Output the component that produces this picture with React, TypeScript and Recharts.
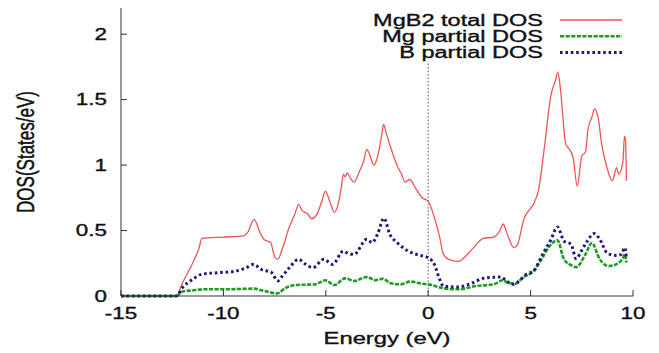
import { LineChart, Line, XAxis, YAxis, ReferenceLine } from 'recharts';

// MgB2 total DOS (red)
const energyTotal = [
  -15, -12.3, -12.0, -11.6, -11.3, -11.2, -11.05, -10.0, -9.0, -8.8, -8.5, -8.2, -8.0, -7.7, -7.5, -7.35,
  -7.1, -6.8, -6.5, -6.33, -6.15, -5.9, -5.7, -5.45, -5.2, -5.02, -4.8, -4.58, -4.4, -4.25, -4.14, -4.05,
  -3.95, -3.8, -3.62, -3.35, -3.15, -3.0, -2.88, -2.65, -2.48, -2.3, -2.18, -2.04, -1.78, -1.5, -1.3, -1.13,
  -0.9, -0.64, -0.29, 0, 0.3, 0.56, 0.74, 1.0, 1.46, 1.8, 2.16, 2.69, 3.2, 3.5, 3.65, 3.91, 4.18, 4.35, 4.7,
  5.0, 5.14, 5.4, 5.67, 6.0, 6.2, 6.33, 6.45, 6.72, 6.9, 7.07, 7.28, 7.5, 7.68, 7.8, 8.0, 8.12, 8.3, 8.47,
  8.73, 8.99, 9.2, 9.3, 9.45, 9.52, 9.58, 9.63, 9.68,
];
const dosTotal = [
  0, 0, 0.1, 0.22, 0.32, 0.36, 0.44, 0.45, 0.46, 0.49, 0.585, 0.48, 0.43, 0.41, 0.3, 0.28,
  0.37, 0.52, 0.63, 0.7, 0.65, 0.63, 0.59, 0.62, 0.72, 0.8, 0.72, 0.64, 0.7, 0.82, 0.93, 0.91,
  0.94, 0.9, 0.87, 0.955, 1.03, 1.12, 1.09, 1.0, 1.06, 1.2, 1.31, 1.24, 1.11, 0.99, 0.93, 0.87,
  0.89, 0.83, 0.75, 0.725, 0.6, 0.45, 0.32, 0.28, 0.265, 0.3, 0.36, 0.44, 0.45, 0.5, 0.55, 0.45, 0.37, 0.39, 0.6,
  0.67, 0.7, 0.82, 1.13, 1.54, 1.64, 1.71, 1.59, 1.16, 1.12, 1.06, 0.84, 1.07, 1.1, 1.27, 1.37, 1.43, 1.36, 1.16,
  0.98, 0.88, 0.98, 0.93, 0.98, 1.05, 1.22, 1.2, 0.88,
];

// Mg partial DOS (green)
const energyMg = [
  -15, -12.3, -12.02, -11.5, -10.97, -9.92, -8.52, -8.0, -7.38, -6.94, -6.42, -5.54, -5.02, -4.58, -4.05, -3.62,
  -3.0, -2.57, -2.21, -1.87, -1.34, -0.9, -0.29, 0, 0.74, 1.46, 2.34, 3.2, 3.65, 3.91, 4.26, 4.61, 5.14, 5.58,
  5.93, 6.31, 6.63, 7.07, 7.22, 7.68, 7.99, 8.38, 8.82, 9.17, 9.52, 9.6, 9.68,
];
const dosMg = [
  0, 0, 0.033, 0.043, 0.051, 0.051, 0.056, 0.038, 0.02, 0.064, 0.084, 0.089, 0.12, 0.084, 0.135, 0.115,
  0.145, 0.12, 0.132, 0.1, 0.089, 0.11, 0.094, 0.089, 0.059, 0.051, 0.076, 0.089, 0.12, 0.1, 0.094, 0.14, 0.19, 0.293,
  0.382, 0.426, 0.28, 0.229, 0.22, 0.318, 0.405, 0.28, 0.229, 0.242, 0.293, 0.318, 0.255,
];

// B partial DOS (blue)
const energyB = [
  -15, -12.3, -12.0, -11.5, -11.06, -10.27, -9.4, -8.87, -8.52, -8.17, -7.64, -7.35, -7.12, -6.77, -6.33, -5.98,
  -5.63, -5.1, -4.67, -4.14, -3.97, -3.62, -3.0, -2.74, -2.48, -2.16, -1.87, -1.52, -0.99, -0.29, 0, 0.3, 0.56,
  0.74, 1.46, 2.16, 2.69, 3.56, 3.82, 4.18, 4.44, 4.79, 5.14, 5.58, 6.0, 6.31, 6.63, 6.98, 7.22, 7.5, 7.77, 8.1,
  8.38, 8.73, 9.13, 9.43, 9.6, 9.68,
];
const dosB = [
  0, 0, 0.064, 0.127, 0.166, 0.178, 0.19, 0.217, 0.242, 0.204, 0.178, 0.115, 0.153, 0.217, 0.28, 0.242,
  0.217, 0.28, 0.242, 0.344, 0.33, 0.318, 0.433, 0.408, 0.47, 0.594, 0.47, 0.408, 0.344, 0.306, 0.293, 0.242, 0.127,
  0.076, 0.069, 0.1, 0.135, 0.145, 0.115, 0.089, 0.115, 0.166, 0.19, 0.318, 0.433, 0.528, 0.42, 0.395, 0.285, 0.35, 0.42, 0.477,
  0.433, 0.33, 0.31, 0.318, 0.37, 0.29,
];

const xTicks = [-15, -10, -5, 0, 5, 10];
const yTicks = [0, 0.5, 1, 1.5, 2];

const zip = (es: number[], vs: number[]) => es.map((e, i) => ({ e, v: vs[i] }));

const series = [
  { name: 'MgB2 total DOS', data: zip(energyTotal, dosTotal), color: '#ee5555', width: 1.3, dash: undefined },
  { name: 'Mg partial DOS', data: zip(energyMg, dosMg), color: '#1f9a22', width: 2.6, dash: '4.2 1.4' },
  { name: 'B partial DOS', data: zip(energyB, dosB), color: '#1c1c78', width: 3, dash: '2.6 2.8' },
];

const FONT = '"Liberation Sans", Arial, sans-serif';
const SX = 1.4;
// slight stroke so the text looks as heavy as the blurred scan
const ink = { fill: '#111', stroke: '#111', strokeWidth: 0.35 };

const BottomTick = ({ x, y, payload }: any) => (
  <text transform={`translate(${x},${y}) scale(${SX},1)`} textAnchor="middle" dy="0.71em"
    fontFamily={FONT} fontSize={16} {...ink}>
    {payload.value}
  </text>
);

const LeftTick = ({ x, y, payload }: any) => (
  <text transform={`translate(${x},${y}) scale(${SX},1)`} textAnchor="end" dy="0.355em"
    fontFamily={FONT} fontSize={16} {...ink}>
    {payload.value}
  </text>
);

const NoTick = () => <g />;

export default function App() {
  return (
    <div style={{ position: 'absolute', left: 0, top: 0, width: 659, height: 353, background: '#fff' }}>
      <LineChart width={659} height={353} margin={{ top: 8, right: 26, bottom: 0, left: 0 }}>
        <XAxis xAxisId="b" dataKey="e" type="number" domain={[-15, 10]} ticks={xTicks} height={57}
          tickSize={-6} tickMargin={18} tick={BottomTick} stroke="#333" allowDataOverflow
          label={{
            content: () => (
              <text transform={`translate(387,344) scale(${SX},1)`} textAnchor="middle"
                fontFamily={FONT} fontSize={17} {...ink}>Energy (eV)</text>
            ),
          }} />
        <XAxis xAxisId="t" orientation="top" dataKey="e" type="number" domain={[-15, 10]} ticks={xTicks}
          height={0} tickSize={-6} tick={NoTick} stroke="#333" />
        <YAxis yAxisId="l" type="number" domain={[0, 2.2]} ticks={yTicks} width={121}
          tickSize={-6} tickMargin={20} tick={LeftTick} stroke="#333"
          label={{
            content: () => (
              <text transform={`translate(26,152) scale(${SX},1) rotate(-90)`} textAnchor="middle" dy="0.355em"
                fontFamily={FONT} fontSize={17} {...ink}>DOS(States/eV)</text>
            ),
          }} />
        <YAxis yAxisId="r" orientation="right" type="number" domain={[0, 2.2]} ticks={yTicks} width={0}
          tickSize={-6} tick={NoTick} stroke="#333" />
        <ReferenceLine xAxisId="b" yAxisId="l" segment={[{ x: 0, y: 0 }, { x: 0, y: 1.78 }]}
          stroke="#555" strokeWidth={1} strokeDasharray="1.5 2" />
        {series.map((s) => (
          <Line key={s.name} xAxisId="b" yAxisId="l" data={s.data} dataKey="v" name={s.name}
            type="monotone" stroke={s.color} strokeWidth={s.width} strokeDasharray={s.dash}
            dot={false} activeDot={false} isAnimationActive={false} />
        ))}
      </LineChart>
      <svg width={659} height={70} style={{ position: 'absolute', left: 0, top: 0, pointerEvents: 'none' }}>
        {series.map((s, i) => {
          const cy = 20 + i * 16.3;
          return (
            <g key={s.name}>
              <text transform={`translate(543,${cy}) scale(1.47,1)`} textAnchor="end" dy="0.36em"
                fontFamily={FONT} fontSize={16} {...ink}>{s.name}</text>
              <line x1={560} x2={622} y1={cy} y2={cy} stroke={s.color} strokeWidth={s.width}
                strokeDasharray={s.dash} />
            </g>
          );
        })}
      </svg>
    </div>
  );
}
